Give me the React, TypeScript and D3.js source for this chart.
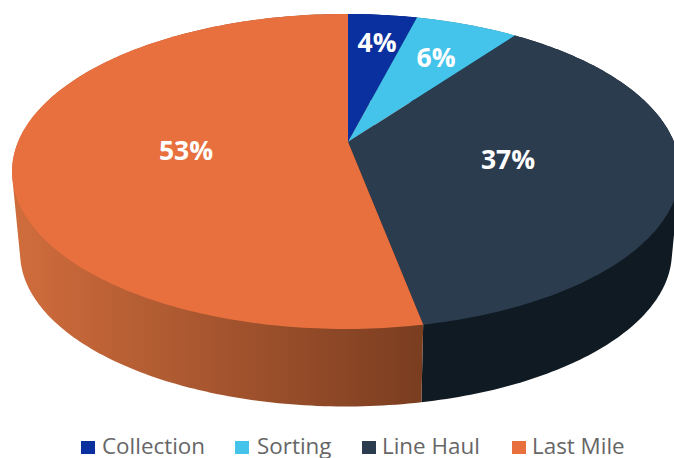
import React from "react";
import * as d3 from "d3";

const categories = ["Collection", "Sorting", "Line Haul", "Last Mile"];
const shares = [4, 6, 37, 53];
const topColors = ["#0a2f9e", "#45c4eb", "#2c3c4f", "#e8703f"];
const wallDark = ["#06205f", "#2a7a92", "#0f1a22", "#7a3d20"];
const wallLight = ["#06205f", "#2a7a92", "#0f1a22", "#cf6c3c"];
const legendSwatchX = [81, 235, 362, 512];
const legendTextX = [102, 257, 382, 532];
const labelAnchors: [number, number][] = [[377, 42], [436, 57], [508, 159], [186, 150]];

const W = 674;
const H = 458;
const hubX = 348;
const hubY = 142;
const radiusX = 328;
const radiusY = 152;
const tilt = 0.187;
const skew = 0.006;
const depth = 82;
const baseShrink = 0.976;

// Perspective projection of a point on the unit disc; angle runs clockwise from twelve o'clock.
function project(angle: number, floor = false): [number, number] {
  const x = Math.sin(angle);
  const y = Math.cos(angle);
  const w = 1 + tilt * y + skew * x;
  const scale = floor ? baseShrink : 1;
  return [
    hubX + (scale * radiusX * x) / w,
    hubY - (scale * radiusY * y) / w + (floor ? depth : 0),
  ];
}

const outline = d3.line<[number, number]>();

function sampled(a0: number, a1: number) {
  const n = Math.max(2, Math.ceil((a1 - a0) * 60));
  return d3.range(n + 1).map((i) => a0 + ((a1 - a0) * i) / n);
}

function slicePath(a0: number, a1: number) {
  const pts: [number, number][] = [[hubX, hubY], ...sampled(a0, a1).map((a) => project(a))];
  return outline(pts) + "Z";
}

// The side of a slice is the hull of its rim and the rim's copy on the floor;
// the top face drawn afterwards hides whatever the hull adds on the inner side.
function wallPath(a0: number, a1: number) {
  const rim = sampled(a0, a1).flatMap((a) => [project(a), project(a, true)]);
  return outline(d3.polygonHull(rim) as [number, number][]) + "Z";
}

export default function App() {
  const arcs = d3
    .pie<number>()
    .sort(null)
    .value((d) => d)(shares);

  return (
    <svg
      width={W}
      height={H}
      viewBox={`0 0 ${W} ${H}`}
      style={{ position: "absolute", left: 0, top: 0, background: "#fff", fontFamily: "'Open Sans', sans-serif" }}
    >
      <defs>
        {arcs.map((_, i) => (
          <linearGradient key={i} id={`wall-${i}`} gradientUnits="userSpaceOnUse" x1={20} x2={423} y1={0} y2={0}>
            <stop offset="0" stopColor={wallLight[i]} />
            <stop offset="1" stopColor={wallDark[i]} />
          </linearGradient>
        ))}
      </defs>

      {arcs.map((d, i) => (
        <path key={i} d={wallPath(d.startAngle, d.endAngle)} fill={`url(#wall-${i})`} />
      ))}
      {arcs.map((d, i) => (
        <path key={i} d={slicePath(d.startAngle, d.endAngle)} fill={topColors[i]} />
      ))}

      {shares.map((v, i) => (
        <text
          key={i}
          x={labelAnchors[i][0]}
          y={labelAnchors[i][1]}
          dy="0.36em"
          textAnchor="middle"
          fill="#fff"
          fontSize={26.5}
          fontWeight={700}
        >
          {`${v}%`}
        </text>
      ))}

      {categories.map((c, i) => (
        <g key={c}>
          <rect x={legendSwatchX[i]} y={441} width={14} height={13} fill={topColors[i]} />
          <text x={legendTextX[i]} y={453.5} fontSize={22.4} fill="#666">
            {c}
          </text>
        </g>
      ))}
    </svg>
  );
}
